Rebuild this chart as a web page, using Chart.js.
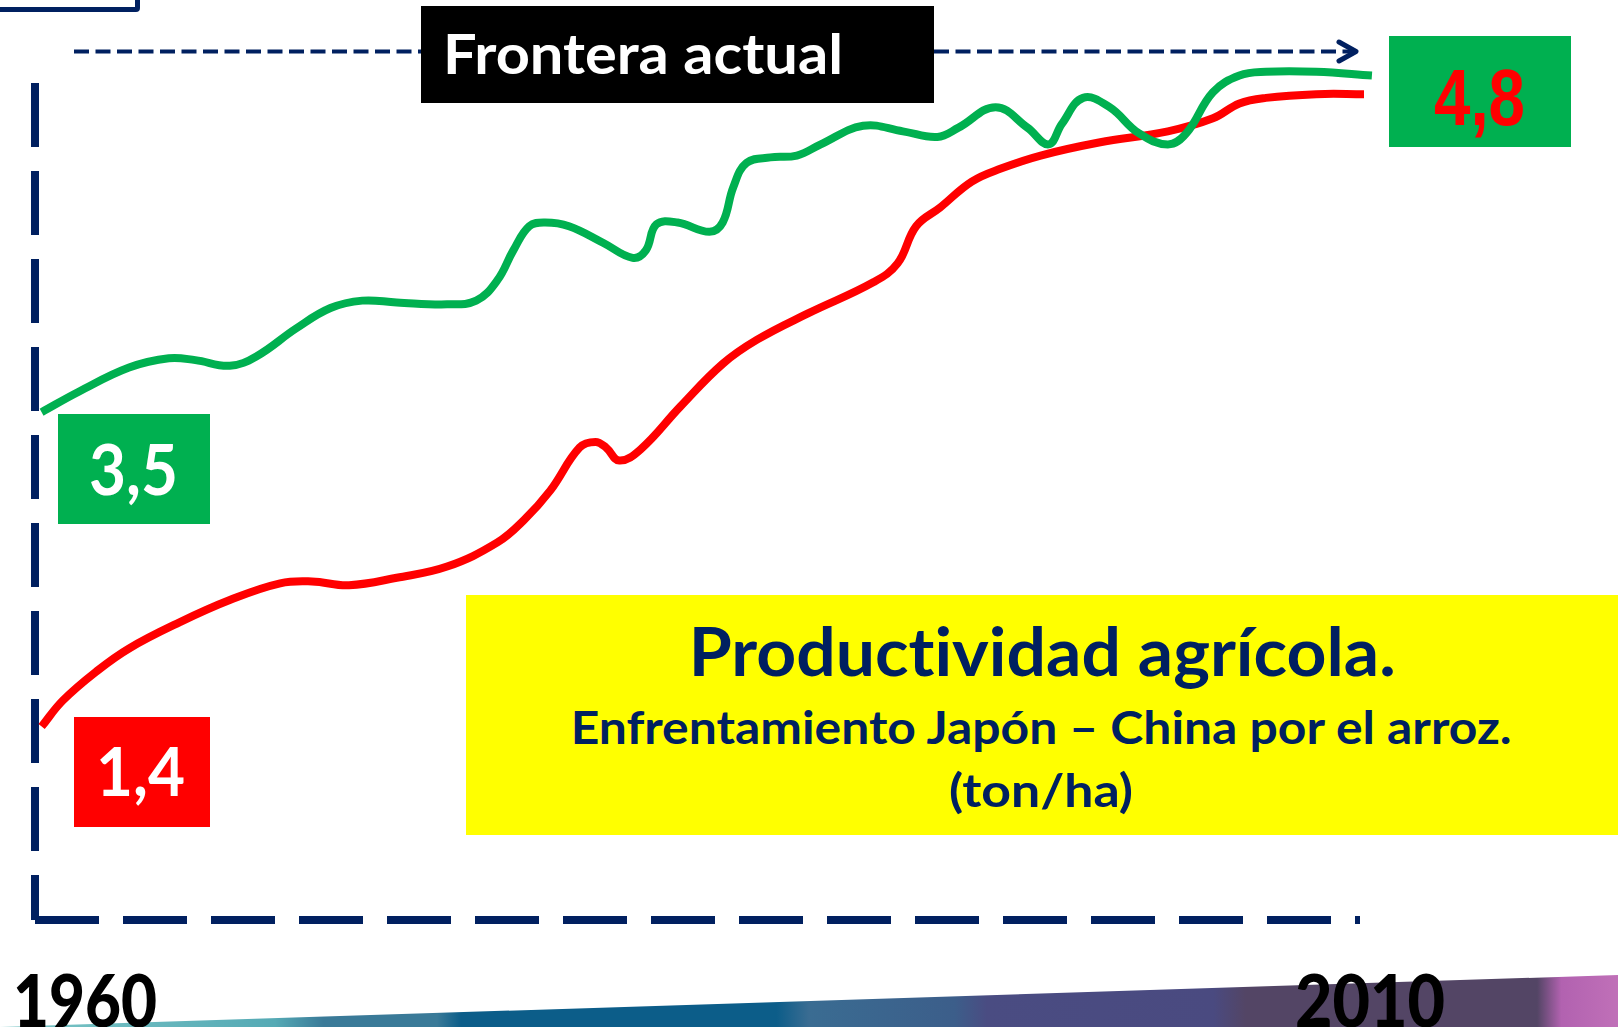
<!DOCTYPE html>
<html lang="es">
<head>
<meta charset="utf-8">
<title>Productividad agrícola</title>
<script src="https://cdn.jsdelivr.net/npm/chart.js@4.4.1/dist/chart.umd.min.js"></script>
<style>
  html, body { margin: 0; padding: 0; background: #fff; }
  body { width: 1618px; height: 1027px; position: relative; overflow: hidden;
         font-family: Lato, 'Open Sans', sans-serif; font-weight: 700;
         font-variant-ligatures: none; font-feature-settings: "liga" 0, "clig" 0; }
  #chartWrap { position: absolute; left: 0; top: 0; width: 1618px; height: 1027px; }
  .abs { position: absolute; }
  .txt { position: absolute; white-space: nowrap; line-height: 1; }
  .frame { left: -10px; top: -40px; width: 140px; height: 42px; border: 5px solid #002060; border-radius: 4px; }
  .band { left: 0; top: 975px; width: 1618px; height: 52px;
          clip-path: polygon(0 100%, 100% 0, 100% 100%);
          background: linear-gradient(90deg, #7cc6c6 0%, #55aab5 17%, #3a7a98 20%, #3a7a98 27%,
                      #0c5d89 28.5%, #0c5d89 48%, #3a6c92 50%, #3c5e8a 59%, #4a4c82 61%,
                      #4a4a80 75%, #534565 77%, #534565 95%, #b262b0 96.5%, #c070b8 100%); }
  .blackBox { left: 421px; top: 6px; width: 513px; height: 97px; background: #000; }
  .greenBox35 { left: 58px; top: 414px; width: 152px; height: 110px; background: #00b050; }
  .redBox14 { left: 74px; top: 717px; width: 136px; height: 110px; background: #ff0000; }
  .greenBox48 { left: 1389px; top: 36px; width: 182px; height: 111px; background: #00b050; }
  .yellowBox { left: 466px; top: 595px; width: 1152px; height: 240px; background: #ffff00; }
</style>
</head>
<body>
<div id="chartWrap"><canvas id="riceChart" width="1618" height="1027"></canvas></div>

<div class="abs frame"></div>
<svg class="abs" style="left:0;top:0" width="1618" height="120">
  <line x1="74" y1="51.5" x2="1354" y2="51.5" stroke="#002060" stroke-width="4" stroke-dasharray="15 6.5"/>
  <polyline points="1339,42 1356,51.5 1339,61" fill="none" stroke="#002060" stroke-width="5" stroke-linecap="round" stroke-linejoin="round"/>
</svg>

<div class="abs blackBox"></div>
<div class="txt fit" data-w="400" style="left:443px;top:25px;font-size:56px;color:#fff">Frontera actual</div>

<div class="abs greenBox35"></div>
<div class="txt fit" data-w="89" style="left:89px;top:433px;font-size:70px;color:#fff">3,5</div>

<div class="abs redBox14"></div>
<div class="txt fit" data-w="89" style="left:96px;top:737px;font-size:67px;color:#fff">1,4</div>

<div class="abs greenBox48"></div>
<div class="txt fit" data-w="91" style="left:1434px;top:58px;font-size:80px;color:#ff0000;font-family:'Liberation Sans Narrow','Liberation Sans',Arial,sans-serif">4,8</div>

<div class="abs yellowBox"></div>
<div class="txt fit" data-w="707" data-center="1042" style="top:617px;font-size:67px;color:#002060">Productividad agrícola.</div>
<div class="txt fit" data-w="941" data-center="1041" style="top:705px;font-size:45px;color:#002060">Enfrentamiento Japón – China por el arroz.</div>
<div class="txt fit" data-w="184" data-center="1041" style="top:768px;font-size:45px;color:#002060">(ton/ha)</div>

<div class="abs band"></div>
<div class="txt fit" data-w="144" style="left:13px;top:963px;font-size:73px;font-weight:900;color:#000">1960</div>
<div class="txt fit" data-w="150" style="left:1295px;top:963px;font-size:73px;font-weight:900;color:#000">2010</div>

<script>
// Japón (verde) y China (rojo), rendimiento de arroz en ton/ha
const japanYears = [1960.0, 1961.4, 1963.3, 1964.8, 1965.8, 1967.1, 1968.1, 1969.6, 1970.9, 1972.1,
                    1973.4, 1975.3, 1976.4, 1977.2, 1977.8, 1978.4, 1979.0, 1979.9, 1981.2, 1982.3,
                    1982.8, 1983.2, 1984.0, 1985.2, 1985.7, 1986.1, 1986.6, 1987.5, 1988.5, 1989.4,
                    1991.0, 1992.5, 1993.8, 1994.6, 1996.0, 1997.2, 1998.0, 1998.5, 1999.3, 2000.3,
                    2001.4, 2002.5, 2003.2, 2004.2, 2005.2, 2006.2, 2008.1, 2010.2];
const japanYield = [3.08, 3.19, 3.32, 3.37, 3.36, 3.33, 3.38, 3.53, 3.64, 3.68,
                    3.67, 3.66, 3.68, 3.79, 3.95, 4.08, 4.10, 4.08, 3.99, 3.91,
                    3.95, 4.09, 4.10, 4.05, 4.10, 4.29, 4.42, 4.45, 4.46, 4.52,
                    4.62, 4.59, 4.56, 4.61, 4.72, 4.61, 4.52, 4.63, 4.77, 4.72,
                    4.58, 4.52, 4.58, 4.80, 4.89, 4.91, 4.91, 4.89];

const chinaYears = [1960.0, 1960.8, 1962.1, 1963.3, 1965.2, 1967.1, 1969.0, 1970.2, 1971.6, 1973.4,
                    1975.3, 1977.2, 1978.2, 1979.2, 1980.3, 1980.9, 1981.3, 1981.8, 1982.6, 1984.1,
                    1985.7, 1987.0, 1988.9, 1991.4, 1992.3, 1993.0, 1993.9, 1995.1, 1996.2, 1997.7,
                    1999.9, 2002.5, 2004.2, 2005.2, 2006.2, 2008.1, 2009.9];
const chinaYield = [1.39, 1.53, 1.69, 1.81, 1.95, 2.07, 2.16, 2.17, 2.15, 2.19,
                    2.25, 2.38, 2.50, 2.66, 2.89, 2.92, 2.89, 2.82, 2.88, 3.11,
                    3.34, 3.47, 3.61, 3.78, 3.88, 4.08, 4.18, 4.32, 4.39, 4.46,
                    4.53, 4.59, 4.66, 4.74, 4.77, 4.79, 4.79];

const seriesNames = ['Japón', 'China'];
const seriesColors = ['#00b050', '#ff0000'];

const toPoints = (xs, ys) => xs.map((x, i) => ({ x: x, y: ys[i] }));

// only one grid line per axis: the dashed frame on the left and at the bottom
const keepFirstTick = scale => { scale.ticks = [{ value: scale.min }]; };

function fitTexts() {
  document.querySelectorAll('.fit').forEach(el => {
    const w = el.getBoundingClientRect().width;
    const k = +el.dataset.w / w;
    if (el.dataset.center) {
      el.style.left = (+el.dataset.center - w / 2) + 'px';
      el.style.transformOrigin = 'center top';
    } else {
      el.style.transformOrigin = 'left top';
    }
    el.style.transform = 'scaleX(' + k.toFixed(4) + ')';
  });
}

function initChart() {
  const ctx = document.getElementById('riceChart');
  const lineStyle = {
    borderWidth: 8,
    tension: 0.4,
    pointRadius: 0,
    fill: false,
    clip: false,
    borderCapStyle: 'butt',
    borderJoinStyle: 'round'
  };
  new Chart(ctx, {
    type: 'line',
    data: {
      datasets: [
        Object.assign({
          label: seriesNames[0],
          data: toPoints(japanYears, japanYield),
          borderColor: seriesColors[0]
        }, lineStyle),
        Object.assign({
          label: seriesNames[1],
          data: toPoints(chinaYears, chinaYield),
          borderColor: seriesColors[1]
        }, lineStyle)
      ]
    },
    options: {
      responsive: false,
      animation: false,
      layout: { padding: { left: 35, right: 258, top: 83, bottom: 107 } },
      plugins: {
        legend: { display: false },
        tooltip: { enabled: false }
      },
      scales: {
        x: {
          type: 'linear',
          min: 1959.75,
          max: 2009.75,
          afterBuildTicks: keepFirstTick,
          ticks: { display: false },
          grid: { color: '#002060', lineWidth: 8, drawTicks: false },
          border: { display: false, dash: [64, 24] }
        },
        y: {
          min: 0.35,
          max: 4.85,
          afterBuildTicks: keepFirstTick,
          ticks: { display: false },
          grid: { color: '#002060', lineWidth: 8, drawTicks: false },
          border: { display: false, dash: [64, 24] }
        }
      }
    }
  });
}

initChart();
if (document.fonts && document.fonts.ready) {
  document.fonts.ready.then(fitTexts);
} else {
  fitTexts();
}
</script>
</body>
</html>
